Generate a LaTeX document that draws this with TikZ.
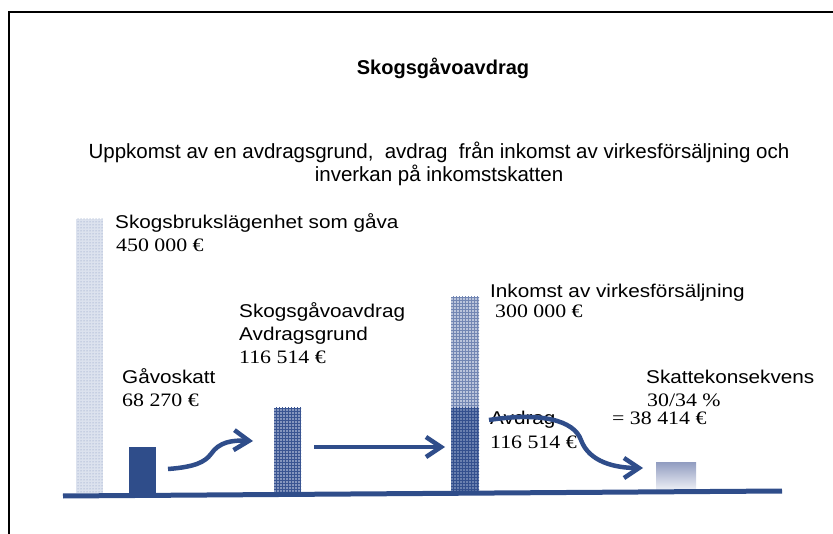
\documentclass[tikz,border=0pt]{standalone}
\usepackage{fontspec}
\setmainfont{Liberation Serif}[FakeStretch=1.15]
\newfontfamily\arialx{Liberation Sans}[FakeStretch=1.12]
\newfontfamily\arialt{Liberation Sans}
\usetikzlibrary{arrows.meta,patterns}
\definecolor{dblue}{HTML}{2F4D8A}
\definecolor{lbar}{HTML}{DCE2EE}
\definecolor{lbardot}{HTML}{7F91BC}
\definecolor{mbar}{HTML}{8596BE}
\definecolor{mgrid}{HTML}{3A5592}
\definecolor{ubar}{HTML}{BAC4DB}
\definecolor{ugrid}{HTML}{7286B3}
\definecolor{lowbar}{HTML}{6A80AF}
\definecolor{lowgrid}{HTML}{34508E}
\definecolor{stop}{HTML}{949FC2}
\definecolor{sbot}{HTML}{EEF0F6}
\tikzset{
  lab/.style={anchor=base west,inner sep=0pt,font=\arialx\fontsize{18.5}{20}\selectfont},
  num/.style={anchor=base west,inner sep=0pt,font=\fontsize{19}{20}\selectfont},
  sub/.style={anchor=base,inner sep=0pt,font=\arialt\fontsize{20.5}{23}\selectfont},
  arr/.style={draw=dblue,line width=4.5pt,-{Straight Barb[length=15pt,width=20pt]}},
  bar/.style={draw=none,inner sep=0pt,outer sep=0pt}
}
\begin{document}
\begin{tikzpicture}[x=1pt,y=-1pt]
\useasboundingbox (0,0) rectangle (833,534);
% frame
\draw[line width=2pt] (9,534) -- (9,12) -- (833,12);
% title
\node[anchor=base,inner sep=0pt,font=\arialt\bfseries\fontsize{20}{22}\selectfont] (title) at (443,75) {Skogsgåvoavdrag};
\node[sub] (sub1) at (439,159) {Uppkomst av en avdragsgrund,\ \ avdrag\ \ från inkomst av virkesförsäljning och};
\node[sub] (sub2) at (439,182) {inverkan på inkomstskatten};
% bars
\fill[lbar] (76,219) rectangle (103,493);
\fill[pattern=dots,pattern color=lbardot] (76,219) rectangle (103,493);
\fill[dblue] (129,447) rectangle (156,493);
\fill[mbar] (274,408) rectangle (301,493);
\fill[pattern=grid,pattern color=mgrid] (274,408) rectangle (301,493);
\fill[ubar] (451,297) rectangle (479,408);
\fill[pattern=grid,pattern color=ugrid] (451,297) rectangle (479,408);
\fill[lowbar] (451,408) rectangle (479,493);
\fill[pattern=grid,pattern color=lowgrid] (451,408) rectangle (479,493);
\shade[top color=stop,bottom color=sbot] (656,463) rectangle (696,490);
% invisible named bar nodes
\node[bar,minimum width=27pt,minimum height=274pt,anchor=north west] (b1) at (76,219) {};
\node[bar,minimum width=27pt,minimum height=46pt,anchor=north west] (b2) at (129,447) {};
\node[bar,minimum width=27pt,minimum height=85pt,anchor=north west] (b3) at (274,408) {};
\node[bar,minimum width=28pt,minimum height=196pt,anchor=north west] (b4) at (451,297) {};
\node[bar,minimum width=40pt,minimum height=27pt,anchor=north west] (b5) at (656,463) {};
% baseline
\coordinate (bl) at (63,496);
\coordinate (br) at (782,491);
\draw[dblue,line width=5pt] (bl) -- (br);
% labels
\node[lab] (l1) at (115,229) {Skogsbrukslägenhet som gåva};
\node[num] (n1) at (116,252) {450 000 €};
\node[lab] (l2) at (122,384) {Gåvoskatt};
\node[num] (n2) at (122,407) {68 270 €};
\node[lab] (l3a) at (239,318) {Skogsgåvoavdrag};
\node[lab] (l3b) at (239,341) {Avdragsgrund};
\node[num] (n3) at (239,364) {116 514 €};
\node[lab] (l4) at (490,298) {Inkomst av virkesförsäljning};
\node[num] (n4) at (495,318) {300 000 €};
\node[lab] (l5) at (490,425) {Avdrag};
\node[num] (n5) at (490,449) {116 514 €};
\node[lab] (l6) at (646,384) {Skattekonsekvens};
\node[num] (n6) at (647,407) {30/34 \%};
\node[num] (n7) at (612,425) {= 38 414 €};
% arrows
\coordinate (a1s) at (168,469);
\coordinate (a1e) at (253,441);
\coordinate (a2s) at (314,447);
\coordinate (a2e) at (445,447);
\coordinate (a3s) at (489,420);
\coordinate (a3e) at (643,468);
\draw[arr] (a1s) .. controls (195,467) and (205,462) .. (211,454) .. controls (219,442) and (232,440) .. (a1e);
\draw[arr] (a2s) -- (a2e);
\draw[arr] (a3s) .. controls (540,412) and (574,420) .. (581,440) .. controls (589,462) and (615,468) .. (a3e);
\end{tikzpicture}
\end{document}
